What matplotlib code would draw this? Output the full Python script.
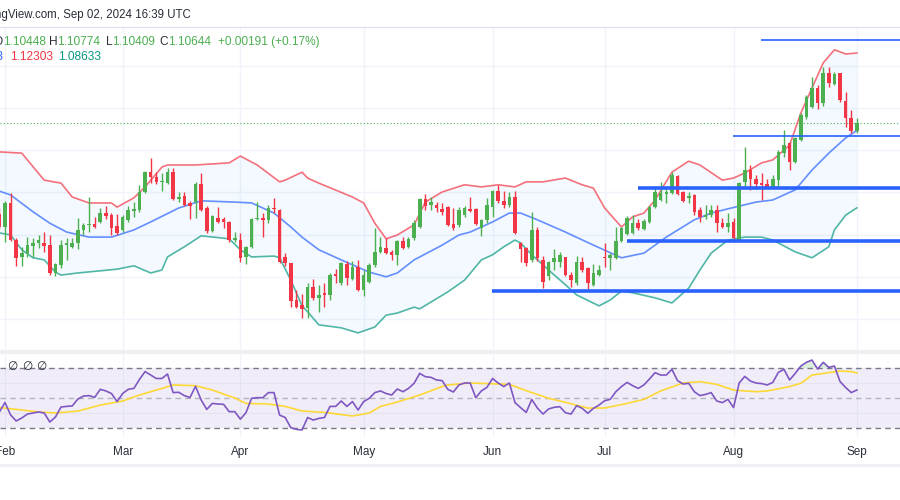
import matplotlib.pyplot as plt
from matplotlib.lines import Line2D
from matplotlib import transforms
import numpy as np
import pandas as pd

plt.rcParams['font.family'] = ['Liberation Sans', 'DejaVu Sans']

# EUR/USD daily bars, Jan 31 -> Sep 02 2024 (weekdays)
dates = pd.bdate_range('2024-01-31', '2024-09-02')

opens = [
    1.0849, 1.0818, 1.0875, 1.0787, 1.0747, 1.0756, 1.0773, 1.0780, 1.0780, 1.0775,
    1.0709, 1.0728, 1.0775, 1.0771, 1.0780, 1.0811, 1.0823, 1.0825, 1.0830, 1.0851,
    1.0846, 1.0820, 1.0811, 1.0835, 1.0856, 1.0858, 1.0901, 1.0948, 1.0937, 1.0925,
    1.0922, 1.0948, 1.0884, 1.0891, 1.0875, 1.0877, 1.0920, 1.0863, 1.0809, 1.0839,
    1.0837, 1.0830, 1.0787, 1.0787, 1.0747, 1.0771, 1.0837, 1.0839, 1.0835, 1.0863,
    1.0858, 1.0747, 1.0733, 1.0645, 1.0633, 1.0626, 1.0676, 1.0650, 1.0662, 1.0657,
    1.0707, 1.0685, 1.0730, 1.0695, 1.0723, 1.0669, 1.0688, 1.0728, 1.0759, 1.0768,
    1.0759, 1.0752, 1.0785, 1.0771, 1.0792, 1.0818, 1.0884, 1.0870, 1.0870, 1.0861,
    1.0865, 1.0825, 1.0823, 1.0846, 1.0861, 1.0861, 1.0816, 1.0835, 1.0865, 1.0903,
    1.0880, 1.0870, 1.0889, 1.0780, 1.0768, 1.0740, 1.0811, 1.0740, 1.0702, 1.0735,
    1.0735, 1.0747, 1.0704, 1.0685, 1.0735, 1.0721, 1.0681, 1.0704, 1.0747, 1.0745,
    1.0745, 1.0785, 1.0801, 1.0804, 1.0828, 1.0813, 1.0830, 1.0865, 1.0882, 1.0896,
    1.0899, 1.0939, 1.0901, 1.0887, 1.0894, 1.0858, 1.0842, 1.0846, 1.0858, 1.0828,
    1.0818, 1.0830, 1.0787, 1.0925, 1.0953, 1.0932, 1.0922, 1.0920, 1.0913, 1.0929,
    1.0994, 1.1017, 1.0972, 1.1024, 1.1079, 1.1102, 1.1147, 1.1112, 1.1183, 1.1157,
    1.1183, 1.1117, 1.1076, 1.10448,
]
highs = [
    1.0863, 1.0880, 1.0899, 1.0792, 1.0771, 1.0794, 1.0792, 1.0799, 1.0806, 1.0799,
    1.0733, 1.0787, 1.0792, 1.0792, 1.0839, 1.0828, 1.0889, 1.0842, 1.0863, 1.0868,
    1.0851, 1.0849, 1.0846, 1.0868, 1.0877, 1.0918, 1.0951, 1.0982, 1.0948, 1.0946,
    1.0958, 1.0958, 1.0901, 1.0901, 1.0880, 1.0925, 1.0946, 1.0868, 1.0846, 1.0865,
    1.0842, 1.0832, 1.0806, 1.0804, 1.0773, 1.0839, 1.0877, 1.0851, 1.0870, 1.0887,
    1.0861, 1.0756, 1.0733, 1.0669, 1.0659, 1.0685, 1.0695, 1.0681, 1.0685, 1.0709,
    1.0719, 1.0735, 1.0737, 1.0737, 1.0740, 1.0716, 1.0733, 1.0816, 1.0794, 1.0792,
    1.0764, 1.0787, 1.0794, 1.0794, 1.0835, 1.0887, 1.0896, 1.0889, 1.0877, 1.0875,
    1.0868, 1.0863, 1.0865, 1.0868, 1.0889, 1.0863, 1.0837, 1.0887, 1.0906, 1.0918,
    1.0903, 1.0901, 1.0903, 1.0783, 1.0771, 1.0854, 1.0818, 1.0749, 1.0737, 1.0766,
    1.0759, 1.0747, 1.0711, 1.0749, 1.0747, 1.0723, 1.0730, 1.0728, 1.0780, 1.0756,
    1.0818, 1.0818, 1.0844, 1.0846, 1.0837, 1.0837, 1.0868, 1.0913, 1.0925, 1.0908,
    1.0948, 1.0941, 1.0903, 1.0901, 1.0896, 1.0865, 1.0870, 1.0870, 1.0870, 1.0839,
    1.0851, 1.0839, 1.0925, 1.1008, 1.0965, 1.0941, 1.0946, 1.0932, 1.0941, 1.1001,
    1.1048, 1.1019, 1.1031, 1.1088, 1.1131, 1.1173, 1.1155, 1.1197, 1.1197, 1.1185,
    1.1183, 1.1138, 1.1095, 1.10774,
]
lows = [
    1.0813, 1.0783, 1.0785, 1.0726, 1.0726, 1.0747, 1.0747, 1.0768, 1.0759, 1.0704,
    1.0702, 1.0721, 1.0740, 1.0768, 1.0766, 1.0799, 1.0806, 1.0816, 1.0828, 1.0837,
    1.0799, 1.0799, 1.0806, 1.0830, 1.0842, 1.0854, 1.0899, 1.0922, 1.0920, 1.0903,
    1.0920, 1.0882, 1.0877, 1.0868, 1.0837, 1.0839, 1.0856, 1.0804, 1.0806, 1.0828,
    1.0816, 1.0783, 1.0783, 1.0735, 1.0730, 1.0768, 1.0835, 1.0794, 1.0828, 1.0851,
    1.0733, 1.0726, 1.0628, 1.0626, 1.0602, 1.0602, 1.0645, 1.0617, 1.0628, 1.0645,
    1.0685, 1.0681, 1.0681, 1.0692, 1.0666, 1.0654, 1.0685, 1.0723, 1.0756, 1.0754,
    1.0740, 1.0728, 1.0766, 1.0768, 1.0787, 1.0816, 1.0858, 1.0858, 1.0854, 1.0846,
    1.0820, 1.0811, 1.0818, 1.0842, 1.0854, 1.0823, 1.0797, 1.0828, 1.0842, 1.0875,
    1.0863, 1.0865, 1.0801, 1.0735, 1.0726, 1.0735, 1.0737, 1.0674, 1.0692, 1.0716,
    1.0723, 1.0702, 1.0676, 1.0681, 1.0711, 1.0671, 1.0678, 1.0702, 1.0723, 1.0716,
    1.0742, 1.0783, 1.0799, 1.0801, 1.0811, 1.0811, 1.0828, 1.0863, 1.0880, 1.0875,
    1.0896, 1.0894, 1.0877, 1.0875, 1.0846, 1.0830, 1.0837, 1.0842, 1.0806, 1.0816,
    1.0806, 1.0783, 1.0785, 1.0913, 1.0906, 1.0908, 1.0882, 1.0911, 1.0911, 1.0915,
    1.0984, 1.0953, 1.0970, 1.1022, 1.1074, 1.1100, 1.1098, 1.1105, 1.1150, 1.1155,
    1.1114, 1.1055, 1.1041, 1.10409,
]
closes = [
    1.0818, 1.0875, 1.0787, 1.0745, 1.0756, 1.0775, 1.0780, 1.0787, 1.0773, 1.0709,
    1.0730, 1.0775, 1.0780, 1.0780, 1.0811, 1.0823, 1.0825, 1.0818, 1.0851, 1.0844,
    1.0816, 1.0804, 1.0842, 1.0858, 1.0861, 1.0901, 1.0948, 1.0937, 1.0925, 1.0927,
    1.0948, 1.0884, 1.0889, 1.0870, 1.0868, 1.0920, 1.0858, 1.0809, 1.0844, 1.0830,
    1.0830, 1.0787, 1.0792, 1.0745, 1.0771, 1.0837, 1.0839, 1.0835, 1.0863, 1.0861,
    1.0735, 1.0733, 1.0643, 1.0628, 1.0624, 1.0676, 1.0650, 1.0657, 1.0657, 1.0704,
    1.0702, 1.0733, 1.0697, 1.0723, 1.0669, 1.0704, 1.0728, 1.0759, 1.0771, 1.0756,
    1.0752, 1.0785, 1.0768, 1.0790, 1.0828, 1.0884, 1.0868, 1.0877, 1.0863, 1.0854,
    1.0823, 1.0816, 1.0858, 1.0863, 1.0856, 1.0825, 1.0835, 1.0870, 1.0903, 1.0880,
    1.0870, 1.0889, 1.0804, 1.0766, 1.0733, 1.0811, 1.0745, 1.0688, 1.0735, 1.0745,
    1.0752, 1.0704, 1.0692, 1.0735, 1.0716, 1.0685, 1.0709, 1.0716, 1.0745, 1.0752,
    1.0785, 1.0816, 1.0839, 1.0828, 1.0816, 1.0832, 1.0865, 1.0901, 1.0899, 1.0901,
    1.0941, 1.0896, 1.0880, 1.0891, 1.0854, 1.0842, 1.0846, 1.0858, 1.0828, 1.0818,
    1.0828, 1.0792, 1.0922, 1.0953, 1.0932, 1.0920, 1.0918, 1.0913, 1.0932, 1.0996,
    1.1013, 1.0972, 1.1029, 1.1083, 1.1126, 1.1147, 1.1112, 1.1183, 1.1159, 1.1181,
    1.1119, 1.1076, 1.1046, 1.10644,
]

# RSI(14) per bar
rsi = [
    40.7, 47, 38.7, 34.7, 36.7, 39.3, 40, 40.7, 40, 34,
    37.3, 44, 44.4, 44.7, 49.3, 51.3, 51.6, 50.4, 55.8, 54.7,
    53, 47.6, 53, 55.8, 56.4, 62.4, 67.6, 65.3, 63, 63,
    66, 53.6, 53.8, 51.6, 50.3, 57.8, 48.7, 42.4, 46.4, 46,
    45.8, 40.9, 40.9, 35.9, 40.2, 49.8, 50.2, 50.2, 53.6, 53.6,
    38.6, 37, 30.2, 29.1, 28.7, 37, 35.3, 36.4, 37, 44.4,
    44.4, 48, 44.4, 47.6, 42, 47.6, 49.8, 53.6, 54.7, 53,
    52, 56, 54.2, 56.4, 59.8, 66.4, 64.2, 63.8, 62, 61.6,
    55.8, 54, 58.7, 60, 60, 50.2, 54.7, 57.1, 63, 60,
    57.6, 60, 46.9, 43.6, 40.4, 49, 43.3, 39.3, 42.7, 43.8,
    44.2, 40.2, 39.3, 44.9, 43.1, 39.8, 43.1, 45.3, 48.2, 49.1,
    54.2, 57.6, 60.4, 58.2, 56.4, 58.7, 62.7, 66.9, 65.3, 65.3,
    69.1, 61.6, 59.3, 59.8, 54.2, 51.6, 52.4, 53.6, 48, 46.9,
    49.1, 43.6, 60, 64.4, 61.3, 60, 59.6, 58.7, 60.4, 67.1,
    69.1, 62, 66.4, 71.3, 73.8, 75.3, 69.3, 73.8, 70.4, 71.3,
    61, 57, 53.6, 55.3,
]

# Bollinger Bands (20, 2) at sample bars (bar number from Jan 31)
upper_bar = [0, 4, 8, 11, 13, 16, 20, 21, 24, 26, 29, 30, 35, 41, 43, 46, 50, 51, 54, 55,
             57, 63, 65, 67, 69, 71, 74, 76, 79, 83, 86, 89, 92, 94, 97, 101, 104, 106, 108,
             111, 113, 115, 117, 120, 123, 125, 129, 131, 133, 136, 138, 141, 143, 147, 149,
             151, 153]
upper = [1.0996, 1.0993, 1.0929, 1.0922, 1.0889, 1.0875, 1.0875, 1.0865, 1.0887, 1.0913,
         1.0960, 1.0965, 1.0965, 1.0970, 1.0986, 1.0965, 1.0925, 1.0929, 1.0948, 1.0934,
         1.0922, 1.0889, 1.0875, 1.0827, 1.0790, 1.0799, 1.0823, 1.0877, 1.0901, 1.0918,
         1.0913, 1.0918, 1.0913, 1.0925, 1.0925, 1.0934, 1.0918, 1.0910, 1.0863, 1.0818,
         1.0842, 1.0851, 1.0882, 1.0948, 1.0974, 1.0965, 1.0929, 1.0934, 1.0946, 1.0970,
         1.0977, 1.1012, 1.1088, 1.1207, 1.1238, 1.1228, 1.12303]

basis_bar = [0, 2, 6, 9, 12, 16, 20, 24, 27, 32, 36, 42, 45, 49, 52, 54, 57, 61, 66, 69,
             71, 74, 79, 82, 84, 88, 91, 93, 96, 101, 106, 111, 115, 119, 124, 127, 130,
             135, 138, 142, 145, 148, 151, 153]
basis = [1.0903, 1.0894, 1.0854, 1.0827, 1.0806, 1.0794, 1.0794, 1.0811, 1.0830, 1.0863,
         1.0880, 1.0877, 1.0875, 1.0851, 1.0818, 1.0794, 1.0764, 1.0740, 1.0711, 1.0700,
         1.0709, 1.0740, 1.0775, 1.0799, 1.0806, 1.0830, 1.0851, 1.0851, 1.0835, 1.0806,
         1.0775, 1.0745, 1.0756, 1.0794, 1.0835, 1.0851, 1.0861, 1.0877, 1.0882, 1.0906,
         1.0953, 1.0993, 1.1029, 1.10468]

lower_bar = [0, 2, 4, 6, 8, 10, 11, 14, 21, 24, 27, 29, 30, 33, 36, 41, 43, 45, 49, 50,
             52, 54, 55, 57, 61, 64, 67, 69, 71, 74, 75, 77, 80, 83, 86, 88, 90, 92, 93,
             95, 98, 101, 103, 107, 109, 111, 113, 117, 120, 123, 125, 127, 130, 133, 136,
             138, 142, 145, 148, 149, 151, 153]
lower = [1.0804, 1.0799, 1.0764, 1.0745, 1.0740, 1.0711, 1.0704, 1.0709, 1.0718, 1.0726,
         1.0709, 1.0716, 1.0747, 1.0771, 1.0797, 1.0790, 1.0764, 1.0747, 1.0749, 1.0745,
         1.0692, 1.0631, 1.0617, 1.0586, 1.0579, 1.0567, 1.0581, 1.0609, 1.0614, 1.0628,
         1.0624, 1.0640, 1.0664, 1.0692, 1.0740, 1.0752, 1.0771, 1.0787, 1.0780, 1.0752,
         1.0716, 1.0681, 1.0657, 1.0631, 1.0645, 1.0666, 1.0662, 1.0650, 1.0638, 1.0673,
         1.0716, 1.0756, 1.0787, 1.0794, 1.0794, 1.0787, 1.0759, 1.0745, 1.0771, 1.0811,
         1.0846, 1.08633]

# RSI-based MA, read at sample bars
rsi_ma_bar = [0, 4, 7, 10, 14, 18, 22, 25, 29, 31, 35, 38, 42, 44, 48, 51, 54, 58, 63, 66,
              68, 71, 75, 79, 80, 84, 91, 94, 98, 101, 105, 108, 112, 115, 118, 122, 125,
              128, 131, 135, 137, 141, 143, 145, 148, 150, 152, 153]
rsi_ma = [43.6, 42, 40.7, 40, 41.3, 45.3, 48, 52, 56.4, 58.7, 58.2, 55.3, 50, 46.4, 46,
          44.4, 41.3, 40.4, 38, 40, 44.4, 47.3, 52, 57.6, 58.7, 60, 59.1, 54.9, 49.8, 47.1,
          43.3, 43.3, 46.4, 49.1, 54.7, 60, 60.9, 59.1, 55.3, 54.2, 54.7, 57.6, 59.8, 65.3,
          66.9, 68, 67.6, 66.7]

# drawn horizontal levels
levels = [1.1261, 1.1034, 1.0910, 1.0785, 1.0666]
level_from = ['2024-08-08', '2024-08-01', '2024-07-09', '2024-07-05', '2024-06-03']
level_lw = [1.2, 1.2, 2.6, 2.6, 2.6]

# legend texts
ohlc_tags = ['O', 'H', 'L', 'C']
ohlc_vals = ['1.10448', '1.10774', '1.10409', '1.10644']
change_txt = '+0.00191 (+0.17%)'
band_vals = ['1.10473', '1.12303', '1.08633']

GREEN = '#4CAF50'
RED = '#F23645'
DARK = '#2A2E39'
GRID = '#F0F3FA'


def main():
    o, h, l, c = map(np.array, (opens, highs, lows, closes))
    x = np.arange(len(dates))
    xmin, xmax = 0.11, 160.7

    fig = plt.figure(figsize=(9, 5), dpi=100)
    ax = fig.add_axes([0, 1 - 351 / 500, 1, 323 / 500])
    ax2 = fig.add_axes([0, 1 - 437 / 500, 1, 84 / 500])

    month_pos = [i for i in range(1, len(dates)) if dates[i].month != dates[i - 1].month]
    month_lab = [dates[i].strftime('%b') for i in month_pos]

    for a in (ax, ax2):
        a.set_xlim(xmin, xmax)
        for s in a.spines.values():
            s.set_visible(False)
        a.set_xticks([])
        a.set_yticks([])
        for p in month_pos:
            a.axvline(p, color=GRID, lw=1, zorder=0)

    ax.set_ylim(1.05241, 1.12896)
    for g in np.arange(1.06, 1.125, 0.01):
        ax.axhline(g, color=GRID, lw=1, zorder=0)

    # bands
    ax.fill(np.r_[upper_bar, lower_bar[::-1]], np.r_[upper, lower[::-1]],
            color='#2196F3', alpha=0.05, lw=0, zorder=1)
    ax.plot(upper_bar, upper, color='#F23645', alpha=0.7, lw=1.2, zorder=2)
    ax.plot(basis_bar, basis, color='#2962FF', alpha=0.7, lw=1.2, zorder=2)
    ax.plot(lower_bar, lower, color='#089981', alpha=0.7, lw=1.2, zorder=2)

    # candles
    cols = np.where(c >= o, GREEN, RED)
    ax.vlines(x, l, h, colors=cols, lw=1, zorder=3)
    body = np.maximum(np.abs(c - o), 0.00022)
    ax.bar(x, body, bottom=np.minimum(o, c), width=0.64, color=cols, lw=0, zorder=4)

    # levels and last price line
    for lev, start, lw in zip(levels, level_from, level_lw):
        ax.hlines(lev, dates.get_loc(pd.Timestamp(start)) - 0.1, xmax, color='#2962FF', lw=lw, zorder=5)
    ax.axhline(c[-1], color=GREEN, lw=0.8, ls=(0, (1, 2)), zorder=1)

    # RSI pane
    ax2.set_ylim(24, 80)
    for g in (40, 60):
        ax2.axhline(g, color=GRID, lw=1, zorder=0)
    ax2.fill_between([xmin, xmax], 30, 70, color='#7E57C2', alpha=0.1, lw=0, zorder=1)
    ax2.axhline(70, color='#787B86', lw=1, ls=(0, (4, 3)), zorder=2)
    ax2.axhline(30, color='#787B86', lw=1, ls=(0, (4, 3)), zorder=2)
    ax2.axhline(50, color='#787B86', lw=1, alpha=0.5, ls=(0, (4, 3)), zorder=2)
    r = np.array(rsi)
    ax2.fill_between(x, 70, r, where=r > 70, interpolate=True, color=GREEN, alpha=0.2, lw=0, zorder=2)
    ax2.plot(rsi_ma_bar, rsi_ma, color='#FDD835', lw=1.2, zorder=3)
    ax2.plot(x, r, color='#7E57C2', lw=1.2, zorder=4)

    # month labels
    tr = transforms.blended_transform_factory(ax2.transData, fig.transFigure)
    for p, lab in zip(month_pos, month_lab):
        fig.text(p, 1 - 452 / 500, lab, transform=tr, ha='center', va='center',
                 fontsize=8.5, color=DARK)

    # separators
    for yy, lw, col in ((27, 1, '#E0E3EB'), (351.5, 3, '#EEF0F4'), (465, 2, '#EEF0F4')):
        fig.add_artist(Line2D([0, 1], [1 - yy / 500] * 2, color=col, lw=lw))

    # header and legend
    def px(xp, yp):
        return xp / 900, 1 - yp / 500

    fs = 8.6
    fig.text(*px(191, 15), 'TradingView.com, Sep 02, 2024 16:39 UTC', ha='right', va='center',
             fontsize=8.3, color=DARK)
    for tag, val, xp in zip(ohlc_tags, ohlc_vals, (3, 57.5, 112.5, 168)):
        fig.text(*px(xp, 42), tag, ha='right', va='center', fontsize=fs, color=DARK)
        fig.text(*px(xp, 42), val, ha='left', va='center', fontsize=fs, color=GREEN)
    fig.text(*px(218, 42), change_txt, ha='left', va='center', fontsize=fs, color=GREEN)
    fig.text(*px(3, 57), band_vals[0], ha='right', va='center', fontsize=fs, color='#2962FF')
    fig.text(*px(10, 57), band_vals[1], ha='left', va='center', fontsize=fs, color='#F23645')
    fig.text(*px(58, 57), band_vals[2], ha='left', va='center', fontsize=fs, color='#089981')
    for xp in (12, 27, 41):
        fig.text(*px(xp, 366), '\u2205', ha='center', va='center', fontsize=fs,
                 color=DARK, family=['DejaVu Sans'])

    fig.savefig('out.png', dpi=100, facecolor='white')


if __name__ == '__main__':
    main()
